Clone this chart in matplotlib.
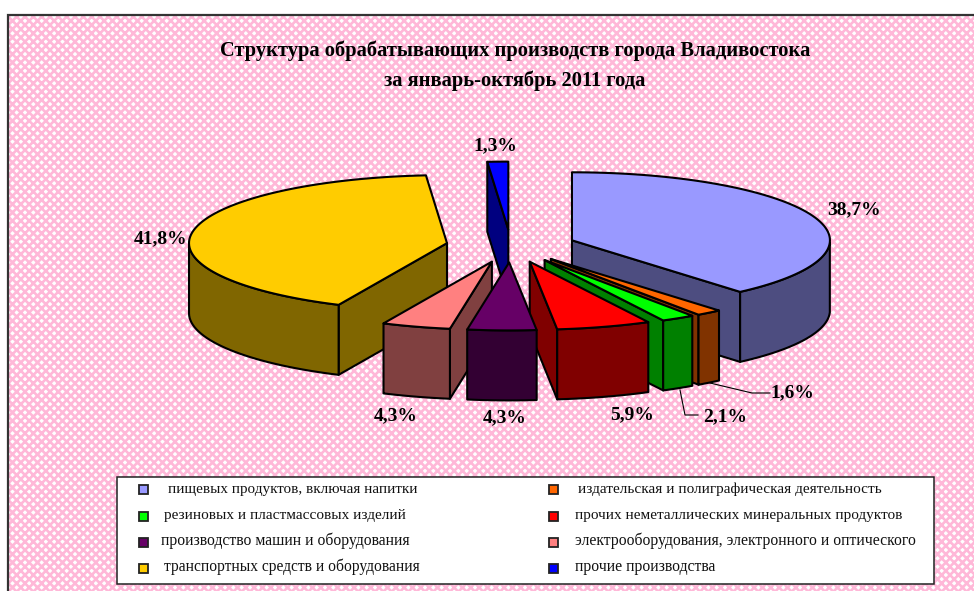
import matplotlib

matplotlib.use("Agg")
import matplotlib.pyplot as plt
import numpy as np
from matplotlib.patches import Polygon, Rectangle

plt.rcParams["font.family"] = ["Liberation Serif", "DejaVu Serif"]
plt.rcParams["hatch.linewidth"] = 1.9

title_lines = [
    "Структура обрабатывающих производств города Владивостока",
    "за январь-октябрь 2011 года",
]

# slices clockwise from 12 o'clock
categories = [
    "пищевых продуктов, включая напитки",
    "издательская и полиграфическая деятельность",
    "резиновых и пластмассовых изделий",
    "прочих неметаллических минеральных продуктов",
    "производство машин и оборудования",
    "электрооборудования, электронного и оптического",
    "транспортных средств и оборудования",
    "прочие производства",
]
shares = [38.7, 1.6, 2.1, 5.9, 4.3, 4.3, 41.8, 1.3]
top_colors = [
    "#9999FF", "#FF6600", "#00FF00", "#FF0000",
    "#660066", "#FF8080", "#FFCC00", "#0000FF",
]
side_colors = [
    "#4D4D80", "#803300", "#008000", "#800000",
    "#330033", "#804040", "#806600", "#000080",
]

# label centres, same order as shares
label_xy = [
    (854, 210), (792, 393), (725, 417), (632, 415),
    (505, 418), (396, 416), (161, 239), (495, 146),
]
# legend slots: column x of marker, text x, row
legend_slots = [
    (143.5, 168, 0), (553.5, 578, 0),
    (143.5, 164, 1), (553.5, 575, 1),
    (143.5, 161, 2), (553.5, 575, 2),
    (143.5, 164, 3), (553.5, 575, 3),
]
legend_sizes = [10.9, 11.0, 10.95, 11.03, 11.3, 11.36, 11.2, 11.3]
marker_rows = [489.5, 516, 542.5, 568]
text_rows = [493, 519, 545, 571]

CX, CY = 511, 246
RX, RY = 258, 68
DEPTH = 70
EXPLODE_X, EXPLODE_Y = 65, 16.4
EDGE = dict(edgecolor="black", linewidth=1.5, joinstyle="round")


def rim_point(tip, ang):
    return tip[0] + RX * np.sin(ang), tip[1] - RY * np.cos(ang)


def draw_slice(ax, start, stop, top_c, side_c, z):
    mid = (start + stop) / 2
    tip = (CX + EXPLODE_X * np.sin(mid), CY - EXPLODE_Y * np.cos(mid))
    angs = np.linspace(start, stop, 80)
    arc = np.array([rim_point(tip, a) for a in angs])
    down = np.array([0, DEPTH])

    # cut faces, only the ones turned to the viewer
    for ang, visible in ((start, np.sin(start) < -1e-6), (stop, np.sin(stop) > 1e-6)):
        if visible:
            p = np.array(rim_point(tip, ang))
            t = np.array(tip)
            ax.add_patch(Polygon([t, p, p + down, t + down], facecolor=side_c, zorder=z, **EDGE))

    # outer rim, front half of the ellipse only
    front = arc[np.cos(angs) < 0]
    if len(front) > 1:
        ax.add_patch(Polygon(np.vstack([front, front[::-1] + down]), facecolor=side_c, zorder=z, **EDGE))

    ax.add_patch(Polygon(np.vstack([[tip], arc]), facecolor=top_c, zorder=z, **EDGE))


fig = plt.figure(figsize=(9.74, 5.91), dpi=100)
ax = fig.add_axes([0, 0, 1, 1])
ax.set_xlim(0, 974)
ax.set_ylim(591, 0)
ax.axis("off")

# chart area
ax.add_patch(Rectangle((8, 15), 970, 580, facecolor="white", edgecolor="#FFB8D8", hatch="xxxx", linewidth=0, zorder=0))
ax.plot([8, 8, 974], [591, 14.5, 14.5], color="#333333", linewidth=1.6, zorder=1, solid_joinstyle="miter")

ax.text(515, 51, title_lines[0], ha="center", va="center", fontsize=14.8, fontweight="bold")
ax.text(515, 81, title_lines[1], ha="center", va="center", fontsize=14.8, fontweight="bold")

edges = np.radians(np.concatenate([[0], np.cumsum(shares)]) * 3.6 * 100 / np.sum(shares))
mids = (edges[:-1] + edges[1:]) / 2
order = np.argsort(-np.cos(mids), kind="stable")
for z, i in enumerate(order):
    draw_slice(ax, edges[i], edges[i + 1], top_colors[i], side_colors[i], 5 + z)

for v, (x, y) in zip(shares, label_xy):
    label = f"{v:.1f}".replace(".", ",") + "%"
    ax.text(x, y, label, ha="center", va="center", fontsize=14, fontweight="bold", zorder=20)

# leader lines for the two thin slices
ax.plot([680, 685, 698], [390, 415, 415], color="black", linewidth=0.8, zorder=4)
ax.plot([710, 752, 770], [383, 393, 393], color="black", linewidth=0.8, zorder=4)

# legend
ax.add_patch(Rectangle((117, 477), 817, 107, facecolor="white", edgecolor="#222222", linewidth=1.1, zorder=2))
for name, color, (mx, tx, row), size in zip(categories, top_colors, legend_slots, legend_sizes):
    y = marker_rows[row]
    ax.add_patch(Rectangle((mx - 4.5, y - 4.5), 9, 9, facecolor=color, edgecolor="#222222", linewidth=1.3, zorder=3))
    ax.text(tx, text_rows[row], name, ha="left", va="baseline", fontsize=size, color="#111111", zorder=3)

fig.savefig("out.png", dpi=100)
